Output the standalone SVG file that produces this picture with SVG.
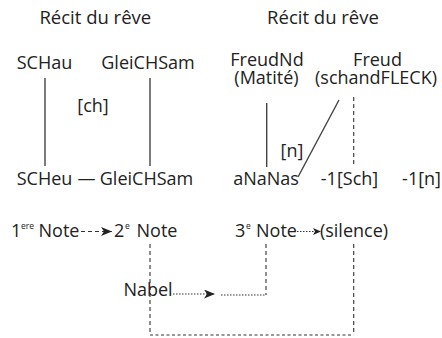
<svg xmlns="http://www.w3.org/2000/svg" width="442" height="338" viewBox="0 0 442 338">
<style>
text{font-family:"Open Sans","Noto Sans","DejaVu Sans",sans-serif;font-size:18px;fill:#222}
.t{font-size:18.5px}
.m{text-anchor:middle}
.e{text-anchor:end}
.sup{font-size:8.5px}
.solid{stroke:#444;stroke-width:1.4;fill:none}
.dash{stroke:#333;stroke-width:1.1;fill:none;stroke-dasharray:4 3}
.dash2{stroke:#333;stroke-width:1.1;fill:none;stroke-dasharray:3 2.5}
.dot{stroke:#333;stroke-width:1;fill:none;stroke-dasharray:1.5 1.5}
</style>
<defs>
<marker id="ah" markerUnits="userSpaceOnUse" markerWidth="12" markerHeight="9" refX="11" refY="4.5" orient="auto">
<path d="M0,0 L11,4.5 L0,9 L3,4.5 z" fill="#222"/>
</marker>
<marker id="ahs" markerUnits="userSpaceOnUse" markerWidth="9" markerHeight="7" refX="8" refY="3.5" orient="auto">
<path d="M0,0 L8,3.5 L0,7 L2,3.5 z" fill="#222"/>
</marker>
</defs>
<g id="title-left"><text class="t m" x="95.3" y="24">Récit du rêve</text></g>
<g id="title-right"><text class="t m" x="323" y="24">Récit du rêve</text></g>
<g id="schau"><text class="m" x="44.5" y="69">SCHau</text></g>
<g id="gleichsam-top"><text class="m" x="148" y="69">GleiCHSam</text></g>
<g id="ch-label"><text class="m" x="93" y="112">[ch]</text></g>
<g id="scheu"><text class="m" x="44.5" y="185">SCHeu</text></g>
<g id="dash-char"><text class="m" x="86.5" y="185">—</text></g>
<g id="gleichsam-bottom"><text class="m" x="146.5" y="185">GleiCHSam</text></g>
<g id="freudnd"><text class="m" x="267" y="66">FreudNd<tspan x="266.5" y="84">(Matité)</tspan></text></g>
<g id="freud"><text class="m" x="377.5" y="66">Freud<tspan x="376" y="84">(schandFLECK)</tspan></text></g>
<g id="n-label"><text class="m" x="292" y="157">[n]</text></g>
<g id="ananas"><text class="m" x="266" y="185">aNaNas</text></g>
<g id="minus-sch"><text class="m" x="349.5" y="185">-1[Sch]</text></g>
<g id="minus-n"><text class="e" x="441" y="185">-1[n]</text></g>
<g id="note1"><text x="11" y="237">1</text><text class="sup" x="21" y="229">ere</text><text class="m" x="59" y="237">Note</text></g>
<g id="note2"><text x="114" y="237">2</text><text class="sup" x="125" y="229">e</text><text class="m" x="157" y="237">Note</text></g>
<g id="note3"><text x="235" y="237">3</text><text class="sup" x="246" y="229">e</text><text class="m" x="276.5" y="237">Note</text></g>
<g id="silence"><text class="m" x="354" y="237">(silence)</text></g>
<g id="nabel"><text class="m" x="148" y="296">Nabel</text></g>
<g id="connectors">
<line class="solid" x1="45" y1="78" x2="45" y2="166"/>
<line class="solid" x1="150" y1="78" x2="150" y2="166"/>
<line class="solid" x1="266.7" y1="103" x2="266.7" y2="167"/>
<line class="solid" x1="339" y1="100" x2="298" y2="177"/>
<line class="dash" x1="353.7" y1="97" x2="353.7" y2="167"/>
<line class="dash" x1="81" y1="231.5" x2="112" y2="231.5" marker-end="url(#ah)"/>
<line class="dot" x1="297" y1="231.5" x2="321" y2="231.5" marker-end="url(#ahs)"/>
<line class="dash" x1="150" y1="244" x2="150" y2="335"/>
<line class="dash2" x1="150" y1="335" x2="353.7" y2="335"/>
<line class="dash" x1="353.7" y1="244" x2="353.7" y2="335"/>
<line class="dash" x1="266" y1="244" x2="266" y2="295"/>
<line class="dot" x1="173" y1="294" x2="215" y2="294" marker-end="url(#ah)"/>
<line class="dot" x1="221" y1="295" x2="266" y2="295"/>
</g>
</svg>
